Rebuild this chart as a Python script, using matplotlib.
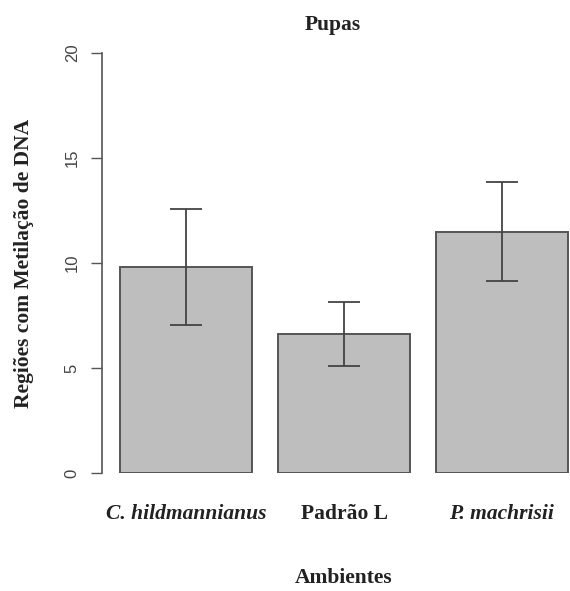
import matplotlib.pyplot as plt
import numpy as np

# data
categories = ["C. hildmannianus", "Padrão L", "P. machrisii"]
italic = [True, False, True]
means = [9.81, 6.62, 11.5]
errors = [2.76, 1.52, 2.36]

fig = plt.figure(figsize=(5.7, 5.91), dpi=100)
ax = fig.add_axes([102 / 570, 118 / 591, 1 - 102 / 570, 420 / 591])

x = np.arange(len(categories))
ax.bar(x, means, width=0.836, color="#bebebe", edgecolor="#555555", linewidth=1.4)
ax.errorbar(x, means, yerr=errors, fmt="none", ecolor="#444444",
            elinewidth=1.3, capsize=11.5, capthick=1.3)

ax.set_xlim(-0.535, 2.432)
ax.set_ylim(0, 20)

for s in ["top", "right", "bottom"]:
    ax.spines[s].set_visible(False)
ax.spines["left"].set_color("#555555")
ax.spines["left"].set_linewidth(1.2)

ax.set_yticks([0, 5, 10, 15, 20])
ax.tick_params(axis="y", length=8, width=1, color="#555555", pad=8,
               labelsize=12, labelcolor="#444444")
for lab in ax.get_yticklabels():
    lab.set_rotation(90)
    lab.set_va("center")
    lab.set_family("Liberation Sans")

ax.set_xticks(x)
ax.set_xticklabels([])
ax.tick_params(axis="x", length=0)
for xi, name, it in zip(x, categories, italic):
    ax.text(xi, -1.95, name, ha="center", va="center",
            family="Liberation Serif", weight="bold",
            style="italic" if it else "normal", fontsize=15.5, color="#222222")

ax.set_ylabel("Regiões com Metilação de DNA", family="Liberation Serif",
              weight="bold", fontsize=15.5, color="#222222", labelpad=22)
fig.text(344 / 570, 1 - 578 / 591, "Ambientes", ha="center", va="center",
         family="Liberation Serif", weight="bold", fontsize=15.5, color="#222222")
fig.text(333 / 570, 1 - 25 / 591, "Pupas", ha="center", va="center",
         family="Liberation Serif", weight="bold", fontsize=15.5, color="#222222")

fig.savefig("out.png", dpi=100)
